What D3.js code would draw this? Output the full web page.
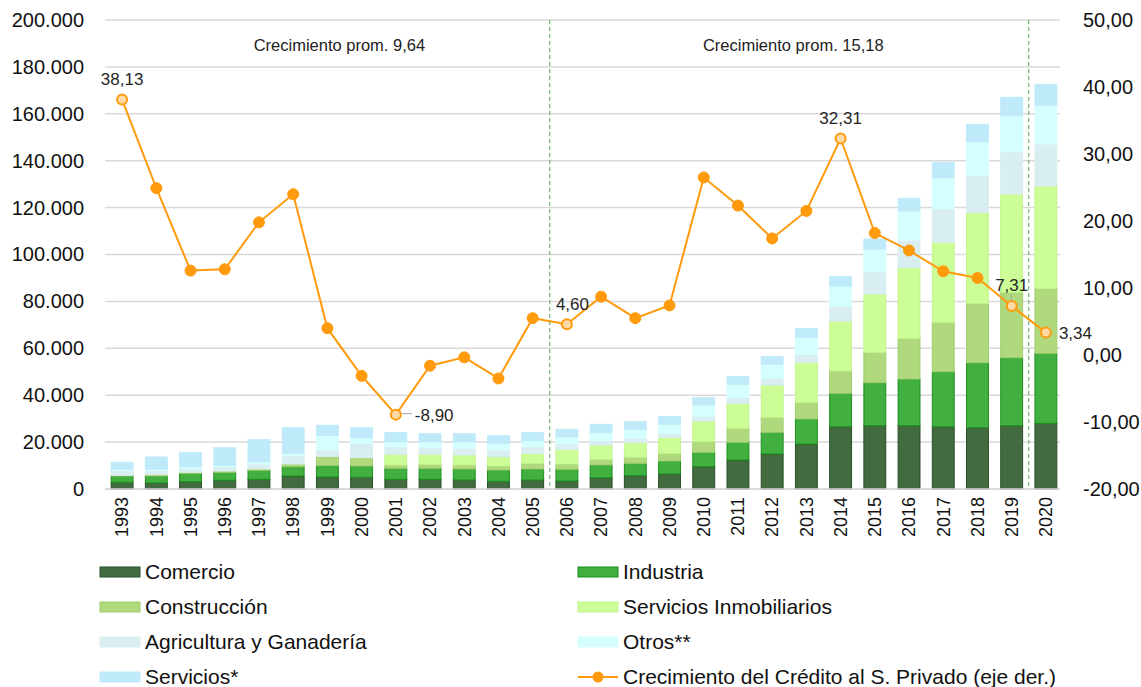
<!DOCTYPE html>
<html>
<head>
<meta charset="utf-8">
<script src="https://cdn.jsdelivr.net/npm/d3@7"></script>
<style>
  body { margin: 0; background: #fff; }
  svg { font-family: "Liberation Sans", Arial, sans-serif; }
</style>
</head>
<body>
<div class="chart"></div>
<script>
// datos (millones) por sector, 1993-2020
const years = d3.range(1993, 2021).map(String);
const comercio      = [2860,2560,3110,3710,4140,5540,5120,4990,4140,4140,3840,3280,3840,3410,4820,5670,6400,9510,12370,14920,19190,26560,26990,26990,26560,26140,26990,28010];
const industria     = [2690,2990,3580,3410,3840,3970,4950,4820,4690,4690,4690,4820,4690,4990,5420,5290,5540,6140,7550,9250,10660,14240,18340,19910,23450,27720,28990,29850];
const construccion  = [300,550,430,550,550,1150,3840,3540,1410,1710,1710,1710,2430,2260,2430,2560,3280,4520,5970,6400,7040,9510,12960,17350,21060,25330,27890,27720];
const inmobiliarios = [0,0,0,0,0,0,0,0,4560,4260,4260,3970,4260,6270,6100,6230,6820,8830,10660,13770,17060,21320,24860,30100,34110,38630,41910,43620];
const agricultura   = [1960,1710,1540,1830,2130,3540,2860,6140,3240,2980,2860,2860,2810,2260,1830,1880,1710,2130,2560,2860,3410,6400,9510,11810,14200,16080,18040,17910];
const otros         = [600,600,850,600,980,1020,6100,2390,2130,2390,2810,2860,2560,3110,3410,3840,3840,4690,5540,5970,7330,8530,9680,12370,13350,14200,15350,16630];
const servicios     = [2980,5240,5970,7500,9380,10920,4260,4260,3840,3410,3410,3240,3410,3160,3580,3240,3240,3110,3240,3240,3670,3970,4260,5420,6570,7420,7850,8830];
const crecimiento   = [38.13,24.9,12.6,12.8,19.8,24.0,4.0,-3.1,-8.90,-1.6,-0.35,-3.5,5.5,4.60,8.7,5.5,7.4,26.5,22.3,17.4,21.5,32.31,18.2,15.6,12.5,11.5,7.31,3.34];

const seriesNames = ["Comercio","Industria","Construcción","Servicios Inmobiliarios","Agricultura y Ganadería","Otros**","Servicios*"];
const seriesData = [comercio, industria, construccion, inmobiliarios, agricultura, otros, servicios];
const fills   = ["#426b40","#41b041","#afd97c","#ccfd97","#d9eef0","#d5ffff","#bfeafa"];
const strokes = ["#2a4f28","#1d8f1d","#9fcf6c","#c2f58c","#d9eef0","#d5ffff","#bfeafa"];

const labeled = {"1993":"top","2001":"right","2006":"topright","2014":"top","2019":"top","2020":"right"};
const periods = [{label:"Crecimiento prom. 9,64", from:"1993", to:"2005"},
                 {label:"Crecimiento prom. 15,18", from:"2006", to:"2019"}];
const periodShift = [12, 4];
const dividers = ["2006","2020"];

const width = 1141, height = 687;
const m = {left: 105, right: 1063, top: 20, bottom: 489};

const loc = d3.formatLocale({decimal:",", thousands:".", grouping:[3], currency:["",""], minus:"-"});
const fmtL = loc.format(",d");
const fmtR = loc.format(",.2f");

const svg = d3.select(".chart").append("svg")
  .attr("width", width).attr("height", height);

const x = d3.scaleBand().domain(years).range([m.left, m.right]).paddingInner(0.36).paddingOuter(0.18);
const y = d3.scaleLinear().domain([0, 200000]).range([m.bottom, m.top]);
const y2 = d3.scaleLinear().domain([-20, 50]).range([m.bottom, m.top]);

// grid
svg.append("g").selectAll("line")
  .data(y.ticks(10))
  .join("line")
  .attr("x1", m.left).attr("x2", m.right - 3)
  .attr("y1", d => y(d)).attr("y2", d => y(d))
  .attr("stroke", "#d9d9d9").attr("stroke-width", 1.5);

// ejes
const axL = svg.append("g").attr("transform", `translate(${m.left - 18},0)`)
  .call(d3.axisLeft(y).ticks(10).tickFormat(fmtL).tickSize(0));
axL.select(".domain").remove();
axL.selectAll("text").attr("font-size", 20).attr("fill", "#111");

const axR = svg.append("g").attr("transform", `translate(${m.right + 17},0)`)
  .call(d3.axisRight(y2).ticks(7).tickFormat(fmtR).tickSize(0));
axR.select(".domain").remove();
axR.selectAll("text").attr("font-size", 20).attr("fill", "#111");

// barras apiladas
const table = years.map((yr, i) => {
  const row = {year: yr};
  seriesNames.forEach((s, k) => row[s] = seriesData[k][i]);
  return row;
});
const stacked = d3.stack().keys(seriesNames)(table);

svg.append("g").selectAll("g")
  .data(stacked)
  .join("g")
  .attr("fill", (d, i) => fills[i])
  .attr("stroke", (d, i) => strokes[i])
  .attr("stroke-width", 1)
  .selectAll("rect")
  .data(d => d.filter(p => p[1] - p[0] > 0))
  .join("rect")
  .attr("x", d => x(d.data.year))
  .attr("width", x.bandwidth())
  .attr("y", d => y(d[1]))
  .attr("height", d => y(d[0]) - y(d[1]));

// eje x
svg.append("line")
  .attr("x1", m.left).attr("x2", m.right - 3)
  .attr("y1", m.bottom).attr("y2", m.bottom)
  .attr("stroke", "#d9d9d9").attr("stroke-width", 1.5);

svg.append("g").selectAll("text")
  .data(years)
  .join("text")
  .attr("transform", d => `translate(${x(d) + x.bandwidth() / 2},497) rotate(-90)`)
  .attr("dy", "0.35em")
  .attr("text-anchor", "end")
  .attr("font-size", 18)
  .attr("fill", "#111")
  .text(d => d);

// divisiones de periodo
dividers.forEach(d => {
  const xv = x(d) - x.step() * x.paddingInner() / 2;
  svg.append("line")
    .attr("x1", xv).attr("x2", xv).attr("y1", m.top).attr("y2", m.bottom)
    .attr("stroke", "#5aa55a").attr("stroke-width", 1)
    .attr("stroke-dasharray", "4,3");
});

periods.forEach((p, i) => {
  const cx = (x(p.from) + x(p.to) + x.bandwidth()) / 2 + periodShift[i];
  svg.append("text")
    .attr("x", cx).attr("y", 51)
    .attr("text-anchor", "middle")
    .attr("font-size", 16.5)
    .attr("fill", "#222")
    .text(p.label);
});

// linea de crecimiento
const pts = years.map((yr, i) => ({year: yr, v: crecimiento[i]}));
const cxOf = d => x(d.year) + x.bandwidth() / 2;

svg.append("path")
  .datum(pts)
  .attr("fill", "none")
  .attr("stroke", "#ff9a0d")
  .attr("stroke-width", 2)
  .attr("d", d3.line().x(cxOf).y(d => y2(d.v)));

svg.append("g").selectAll("circle")
  .data(pts)
  .join("circle")
  .attr("cx", cxOf)
  .attr("cy", d => y2(d.v))
  .attr("r", d => labeled[d.year] ? 5 : 5.5)
  .attr("fill", d => labeled[d.year] ? "#ffd9a6" : "#ff9a0d")
  .attr("stroke", "#ff9a0d")
  .attr("stroke-width", d => labeled[d.year] ? 2 : 1);

// etiquetas
const lab = svg.append("g").attr("font-size", 17).attr("fill", "#262626");
pts.filter(d => labeled[d.year]).forEach(d => {
  const px = cxOf(d), py = y2(d.v), pos = labeled[d.year];
  const t = fmtR(d.v);
  if (pos === "top") {
    lab.append("text").attr("x", px).attr("y", py - 15).attr("text-anchor", "middle").text(t);
    if (d.year === "2019")
      lab.append("line").attr("x1", px - 1).attr("x2", px).attr("y1", py - 12).attr("y2", py - 5)
        .attr("stroke", "#a6a6a6");
  } else if (pos === "right") {
    if (d.year === "2001")
      lab.append("line").attr("x1", px + 6).attr("x2", px + 16).attr("y1", py - 1).attr("y2", py - 1)
        .attr("stroke", "#a6a6a6");
    lab.append("text").attr("x", px + (d.year === "2001" ? 19 : 13)).attr("y", py).attr("dy", "0.35em").text(t);
  } else {
    lab.append("text").attr("x", px - 11).attr("y", py - 14).text(t);
  }
});

// leyenda
const legendItems = seriesNames.map((s, i) => ({name: s, i: i}))
  .concat([{name: "Crecimiento del Crédito al S. Privado (eje der.)", i: -1}]);
const lg = svg.append("g");
legendItems.forEach((d, k) => {
  const col = k % 2, row = Math.floor(k / 2);
  const gx = col === 0 ? 100 : 578, gy = 572 + row * 35;
  if (d.i >= 0) {
    lg.append("rect").attr("x", gx).attr("y", gy - 5).attr("width", 40).attr("height", 10)
      .attr("fill", fills[d.i]).attr("stroke", strokes[d.i]);
  } else {
    lg.append("line").attr("x1", gx).attr("x2", gx + 40).attr("y1", gy).attr("y2", gy)
      .attr("stroke", "#ff9a0d").attr("stroke-width", 2);
    lg.append("circle").attr("cx", gx + 20).attr("cy", gy).attr("r", 5.5).attr("fill", "#ff9a0d");
  }
  lg.append("text").attr("x", gx + 45).attr("y", gy).attr("dy", "0.35em")
    .attr("font-size", 21).attr("fill", "#111").text(d.name);
});
</script>
</body>
</html>
